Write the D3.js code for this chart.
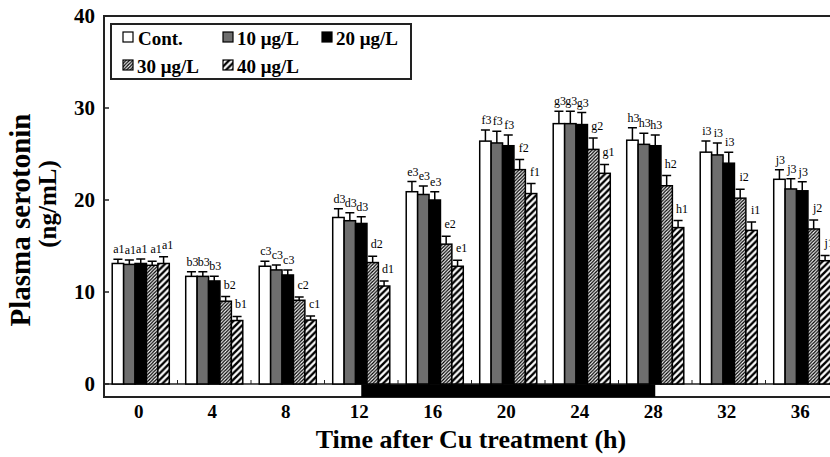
<!DOCTYPE html>
<html>
<head>
<meta charset="utf-8">
<script src="https://cdn.jsdelivr.net/npm/d3@7"></script>
<style>
  body { margin: 0; background: #fff; }
  svg text { font-family: "Liberation Serif", "Times New Roman", serif; }
</style>
</head>
<body>
<div id="chart"></div>
<script>
// datos del grafico
var times = ["0", "4", "8", "12", "16", "20", "24", "28", "32", "36"];
var series = ["Cont.", "10 μg/L", "20 μg/L", "30 μg/L", "40 μg/L"];

var contVals = [13.1, 11.7, 12.8, 18.1, 20.9, 26.4, 28.3, 26.5, 25.2, 22.25];
var c10Vals  = [13.0, 11.7, 12.4, 17.75, 20.6, 26.2, 28.3, 26.05, 24.9, 21.2];
var c20Vals  = [13.1, 11.2, 11.85, 17.45, 20.0, 25.9, 28.2, 25.9, 24.0, 21.0];
var c30Vals  = [12.9, 9.0, 9.1, 13.2, 15.2, 23.3, 25.5, 21.55, 20.2, 16.85];
var c40Vals  = [13.1, 6.9, 6.95, 10.65, 12.8, 20.7, 22.9, 17.0, 16.7, 13.4];

var contErr = [0.47, 0.5, 0.55, 0.95, 1.1, 1.2, 1.35, 1.35, 1.2, 1.05];
var c10Err  = [0.47, 0.5, 0.54, 0.87, 0.93, 1.26, 1.36, 1.2, 1.3, 1.1];
var c20Err  = [0.5, 0.5, 0.54, 0.72, 0.9, 1.16, 1.3, 1.16, 1.2, 0.98];
var c30Err  = [0.45, 0.5, 0.35, 0.68, 0.87, 1.09, 1.25, 1.1, 0.97, 0.98];
var c40Err  = [0.72, 0.45, 0.45, 0.54, 0.65, 1.09, 0.97, 0.76, 0.9, 0.58];

var sigLabels = [
  ["a1", "a1", "a1", "a1", "a1"],
  ["b3", "b3", "b3", "b2", "b1"],
  ["c3", "c3", "c3", "c2", "c1"],
  ["d3", "d3", "d3", "d2", "d1"],
  ["e3", "e3", "e3", "e2", "e1"],
  ["f3", "f3", "f3", "f2", "f1"],
  ["g3", "g3", "g3", "g2", "g1"],
  ["h3", "h3", "h3", "h2", "h1"],
  ["i3", "i3", "i3", "i2", "i1"],
  ["j3", "j3", "j3", "j2", "j1"]
];
var yTicks = [0, 10, 20, 30, 40];
var darkStart = "12", darkEnd = "28"; // periodo oscuro

var allVals = [contVals, c10Vals, c20Vals, c30Vals, c40Vals];
var allErr = [contErr, c10Err, c20Err, c30Err, c40Err];

var width = 830, height = 457;
var plotLeft = 104, plotTop = 16, plotBottom = 384, stripBottom = 397;

var svg = d3.select("#chart").append("svg")
  .attr("width", width)
  .attr("height", height);

// patrones de rayado
var defs = svg.append("defs");
function hatch(id, size, sw) {
  var p = defs.append("pattern")
    .attr("id", id)
    .attr("patternUnits", "userSpaceOnUse")
    .attr("width", size).attr("height", size);
  p.append("rect").attr("width", size).attr("height", size).attr("fill", "#fff");
  p.append("path")
    .attr("d", "M-1,1 l2,-2 M0," + size + " l" + size + "," + (-size) +
      " M" + (size - 1) + "," + (size + 1) + " l2,-2")
    .attr("stroke", "#000").attr("stroke-width", sw);
}
hatch("h30", 3.4, 1.3);
hatch("h40", 6.5, 2.4);

var fills = ["#fff", "#6e6e6e", "#000", "url(#h30)", "url(#h40)"];

// escalas
var x0 = d3.scaleBand().domain(times).range([plotLeft, plotLeft + 735]).padding(0);
var x1 = d3.scaleBand().domain(series).range([0, x0.bandwidth()])
  .paddingInner(0).paddingOuter(0.72);
var y = d3.scaleLinear().domain([0, 40]).range([plotBottom, plotTop]);

// marco
svg.append("rect")
  .attr("x", plotLeft).attr("y", plotTop)
  .attr("width", 760).attr("height", stripBottom - plotTop)
  .attr("fill", "none").attr("stroke", "#222").attr("stroke-width", 2);

// franja luz/oscuridad
var cx = function(t) { return x0(t) + x0.bandwidth() / 2; };
svg.append("rect")
  .attr("x", cx(darkStart)).attr("y", plotBottom)
  .attr("width", cx(darkEnd) - cx(darkStart)).attr("height", stripBottom - plotBottom)
  .attr("fill", "#000");
svg.append("line")
  .attr("x1", plotLeft).attr("x2", width)
  .attr("y1", plotBottom).attr("y2", plotBottom)
  .attr("stroke", "#222").attr("stroke-width", 1.5);

// barras
var groups = svg.selectAll("g.grp")
  .data(times)
  .enter().append("g")
  .attr("class", "grp")
  .attr("transform", function(d) { return "translate(" + x0(d) + ",0)"; });

groups.each(function(t, i) {
  var g = d3.select(this);
  var rows = series.map(function(s, j) {
    return { s: s, j: j, v: allVals[j][i], e: allErr[j][i], lab: sigLabels[i][j] };
  });

  g.selectAll("rect")
    .data(rows)
    .enter().append("rect")
    .attr("x", function(d) { return x1(d.s); })
    .attr("y", function(d) { return y(d.v); })
    .attr("width", x1.bandwidth())
    .attr("height", function(d) { return y(0) - y(d.v); })
    .attr("fill", function(d) { return fills[d.j]; })
    .attr("stroke", "#000").attr("stroke-width", 1.5);

  // barras de error
  g.selectAll("path.err")
    .data(rows)
    .enter().append("path")
    .attr("class", "err")
    .attr("d", function(d) {
      var xc = x1(d.s) + x1.bandwidth() / 2;
      return "M" + xc + "," + y(d.v) + "V" + y(d.v + d.e) +
        "M" + (xc - 4.5) + "," + y(d.v + d.e) + "H" + (xc + 4.5);
    })
    .attr("stroke", "#000").attr("stroke-width", 1.5).attr("fill", "none");

  // letras de significancia
  g.selectAll("text.sig")
    .data(rows)
    .enter().append("text")
    .attr("class", "sig")
    .attr("x", function(d) { return x1(d.s) + x1.bandwidth() / 2 + (d.j > 2 ? 4 : 1); })
    .attr("y", function(d) { return y(d.v + d.e) - (d.j > 2 ? 8 : 6); })
    .attr("text-anchor", "middle")
    .attr("font-size", 12)
    .text(function(d) { return d.lab; });
});

// marcas entre grupos
svg.selectAll("line.sep")
  .data(times.slice(1))
  .enter().append("line")
  .attr("x1", function(d) { return x0(d); })
  .attr("x2", function(d) { return x0(d); })
  .attr("y1", plotBottom).attr("y2", plotBottom - 4)
  .attr("stroke", "#222").attr("stroke-width", 1);

// eje Y
svg.selectAll("line.ytick")
  .data(yTicks)
  .enter().append("line")
  .attr("x1", plotLeft).attr("x2", plotLeft + 5)
  .attr("y1", function(d) { return y(d); })
  .attr("y2", function(d) { return y(d); })
  .attr("stroke", "#222").attr("stroke-width", 1.5);

svg.selectAll("text.ylab")
  .data(yTicks)
  .enter().append("text")
  .attr("x", 95)
  .attr("y", function(d) { return y(d); })
  .attr("dy", "0.35em")
  .attr("text-anchor", "end")
  .attr("font-size", 21).attr("font-weight", "bold")
  .text(function(d) { return d; });

// eje X
svg.selectAll("text.xlab")
  .data(times)
  .enter().append("text")
  .attr("x", function(d) { return cx(d) - 2; })
  .attr("y", 418)
  .attr("text-anchor", "middle")
  .attr("font-size", 19).attr("font-weight", "bold")
  .text(function(d) { return d; });

svg.append("text")
  .attr("x", 471).attr("y", 448)
  .attr("text-anchor", "middle")
  .attr("font-size", 26).attr("font-weight", "bold")
  .text("Time after Cu treatment (h)");

svg.append("text")
  .attr("transform", "translate(30,220) rotate(-90)")
  .attr("text-anchor", "middle")
  .attr("font-size", 29).attr("font-weight", "bold")
  .text("Plasma serotonin");
svg.append("text")
  .attr("transform", "translate(56,204) rotate(-90)")
  .attr("text-anchor", "middle")
  .attr("font-size", 25).attr("font-weight", "bold")
  .text("(ng/mL)");

// leyenda
var legend = svg.append("g");
legend.append("rect")
  .attr("x", 111).attr("y", 24).attr("width", 300).attr("height", 55)
  .attr("fill", "#fff").attr("stroke", "#222").attr("stroke-width", 2);

var legPos = [[123, 32], [223, 32], [322, 32], [123, 60], [223, 60]];
var items = legend.selectAll("g.item")
  .data(series)
  .enter().append("g")
  .attr("transform", function(d, i) { return "translate(" + legPos[i][0] + "," + legPos[i][1] + ")"; });
items.append("rect")
  .attr("width", 10).attr("height", 10)
  .attr("fill", function(d, i) { return fills[i]; })
  .attr("stroke", "#000").attr("stroke-width", 1.2);
items.append("text")
  .attr("x", function(d, i) { return i === 0 ? 15 : 14; })
  .attr("y", 13)
  .attr("font-size", 19).attr("font-weight", "bold")
  .text(function(d) { return d; });
</script>
</body>
</html>
